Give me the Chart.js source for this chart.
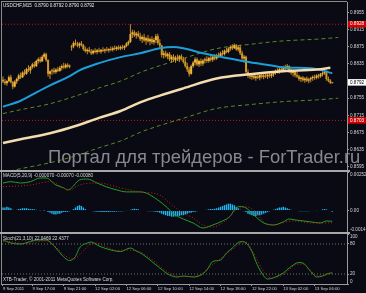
<!DOCTYPE html>
<html>
<head>
<meta charset="utf-8">
<title>USDCHF M15</title>
<script src="https://cdn.jsdelivr.net/npm/chart.js@4.4.1/dist/chart.umd.min.js"></script>
<style>
  html, body { margin: 0; padding: 0; background: #0a0a14; }
  #chart { position: relative; width: 366px; height: 293px; overflow: hidden; background: #0a0a14; }
  #chart canvas { position: absolute; left: 0; }
  .rule { position: absolute; background: #8c8c8c; }
</style>
</head>
<body>
<div id="chart">
  <canvas id="priceChart" width="366" height="170" style="top:0"></canvas>
  <canvas id="macdChart" width="366" height="60" style="top:172px"></canvas>
  <canvas id="stochChart" width="366" height="59" style="top:234px"></canvas>
  <div class="rule" style="left:1px;top:1px;width:346px;height:1px"></div>
  <div class="rule" style="left:1px;top:1px;width:1px;height:284px"></div>
  <div class="rule" style="left:0;top:170px;width:350px;height:2px;background:#a8a8a8"></div>
  <div class="rule" style="left:0;top:232px;width:350px;height:2px;background:#a8a8a8"></div>
</div>
<script>
// USDCHF M15, one entry per bar (9 Sep 2011 -> 13 Sep 2011)
const opens = [
  0.8798,0.8794,0.8790,0.8795,0.8804,0.8792,0.8782,
  0.8794,0.8800,0.8808,0.8804,0.8815,0.8812,0.8823,0.8820,0.8828,0.8834,0.8830,0.8842,0.8846,0.8841,0.8852,0.8858,
  0.8844,0.8812,
  0.8818,0.8820,0.8816,0.8822,0.8819,0.8826,0.8830,0.8827,0.8833,0.8829,
  0.8874,0.8876,0.8884,0.8881,0.8878,0.8883,
  0.8879,0.8870,0.8865,0.8868,0.8864,0.8860,0.8866,
  0.8863,0.8867,0.8864,0.8868,0.8866,0.8869,0.8867,0.8870,
  0.8868,0.8872,0.8870,0.8874,0.8871,0.8875,0.8873,
  0.8877,0.8883,0.8887,0.8905,0.8909,0.8902,0.8906,
  0.8900,0.8893,0.8898,0.8890,0.8895,0.8888,0.8893,0.8886,
  0.8891,0.8900,0.8884,
  0.8878,0.8856,0.8860,
  0.8853,0.8858,0.8846,0.8852,0.8844,0.8850,0.8847,0.8853,0.8846,
  0.8840,0.8830,0.8822,0.8812,0.8830,
  0.8838,0.8846,0.8834,0.8842,0.8836,
  0.8843,0.8846,0.8842,0.8849,0.8845,0.8852,0.8848,0.8856,
  0.8853,0.8860,0.8858,0.8866,0.8863,
  0.8871,0.8875,0.8872,0.8879,0.8869,0.8874,0.8860,0.8848,0.8852,0.8816,
  0.8808,0.8805,0.8808,0.8802,0.8806,0.8803,0.8809,0.8805,0.8808,0.8806,0.8810,0.8807,0.8811,
  0.8815,0.8819,0.8816,0.8823,0.8820,0.8827,0.8824,
  0.8830,0.8818,0.8814,0.8817,0.8809,
  0.8806,0.8800,0.8803,0.8797,0.8801,0.8796,0.8799,
  0.8802,0.8805,0.8803,0.8808,0.8806,0.8811,0.8814,0.8816,0.8800,0.8796,0.8790
];
const highs = [
  0.8806,0.8800,0.8797,0.8808,0.8810,0.8795,0.8797,
  0.8803,0.8812,0.8815,0.8818,0.8822,0.8826,0.8832,0.8830,0.8838,0.8840,0.8845,0.8850,0.8852,0.8856,0.8862,0.8861,
  0.8846,0.8820,
  0.8824,0.8826,0.8825,0.8828,0.8830,0.8834,0.8838,0.8836,0.8837,0.8834,
  0.8880,0.8888,0.8892,0.8887,0.8886,0.8889,
  0.8882,0.8876,0.8872,0.8875,0.8870,0.8869,0.8872,
  0.8870,0.8873,0.8870,0.8874,0.8871,0.8875,0.8872,0.8876,
  0.8876,0.8878,0.8877,0.8879,0.8878,0.8880,0.8879,
  0.8886,0.8890,0.8928,0.8915,0.8914,0.8910,0.8912,
  0.8908,0.8902,0.8906,0.8899,0.8903,0.8897,0.8900,0.8896,
  0.8905,0.8906,0.8893,
  0.8880,0.8866,0.8866,
  0.8862,0.8863,0.8856,0.8858,0.8854,0.8857,0.8856,0.8858,0.8852,
  0.8849,0.8838,0.8828,0.8834,0.8842,
  0.8851,0.8850,0.8845,0.8848,0.8846,
  0.8850,0.8853,0.8852,0.8856,0.8855,0.8858,0.8859,0.8862,
  0.8864,0.8867,0.8869,0.8873,0.8874,
  0.8879,0.8881,0.8883,0.8882,0.8878,0.8880,0.8866,0.8856,0.8854,0.8822,
  0.8813,0.8812,0.8814,0.8810,0.8813,0.8811,0.8815,0.8812,0.8814,0.8813,0.8815,0.8814,0.8818,
  0.8822,0.8825,0.8826,0.8829,0.8831,0.8833,0.8835,
  0.8832,0.8824,0.8822,0.8820,0.8816,
  0.8810,0.8806,0.8807,0.8804,0.8806,0.8803,0.8805,
  0.8808,0.8810,0.8811,0.8812,0.8814,0.8818,0.8822,0.8820,0.8806,0.8799,0.8792
];
const lows = [
  0.8790,0.8786,0.8784,0.8792,0.8790,0.8776,0.8780,
  0.8788,0.8796,0.8800,0.8802,0.8808,0.8810,0.8816,0.8812,0.8824,0.8826,0.8828,0.8836,0.8838,0.8840,0.8847,0.8840,
  0.8805,0.8800,
  0.8810,0.8812,0.8812,0.8816,0.8817,0.8820,0.8824,0.8824,0.8826,0.8825,
  0.8866,0.8872,0.8878,0.8874,0.8872,0.8876,
  0.8866,0.8862,0.8858,0.8862,0.8856,0.8857,0.8860,
  0.8858,0.8862,0.8859,0.8863,0.8860,0.8864,0.8862,0.8865,
  0.8864,0.8867,0.8866,0.8868,0.8867,0.8869,0.8868,
  0.8874,0.8878,0.8884,0.8896,0.8898,0.8894,0.8897,
  0.8889,0.8884,0.8887,0.8880,0.8885,0.8879,0.8882,0.8880,
  0.8884,0.8880,0.8872,
  0.8850,0.8848,0.8850,
  0.8846,0.8842,0.8838,0.8840,0.8838,0.8842,0.8839,0.8843,0.8836,
  0.8826,0.8816,0.8806,0.8810,0.8826,
  0.8832,0.8830,0.8828,0.8830,0.8831,
  0.8836,0.8838,0.8838,0.8841,0.8840,0.8844,0.8845,0.8849,
  0.8850,0.8854,0.8855,0.8860,0.8860,
  0.8866,0.8868,0.8870,0.8866,0.8864,0.8856,0.8842,0.8838,0.8810,0.8802,
  0.8800,0.8798,0.8799,0.8796,0.8800,0.8797,0.8801,0.8799,0.8802,0.8800,0.8803,0.8802,0.8805,
  0.8810,0.8813,0.8812,0.8816,0.8818,0.8820,0.8822,
  0.8814,0.8810,0.8806,0.8804,0.8802,
  0.8796,0.8793,0.8794,0.8791,0.8793,0.8790,0.8792,
  0.8796,0.8798,0.8799,0.8801,0.8803,0.8806,0.8809,0.8796,0.8792,0.8788,0.8790
];
const closes = [
  0.8794,0.8790,0.8795,0.8804,0.8792,0.8782,0.8794,
  0.8800,0.8808,0.8804,0.8815,0.8812,0.8823,0.8820,0.8828,0.8834,0.8830,0.8842,0.8846,0.8841,0.8852,0.8858,0.8844,
  0.8812,0.8818,
  0.8820,0.8816,0.8822,0.8819,0.8826,0.8830,0.8827,0.8833,0.8829,0.8831,
  0.8876,0.8884,0.8881,0.8878,0.8883,0.8879,
  0.8870,0.8865,0.8868,0.8864,0.8860,0.8866,0.8863,
  0.8867,0.8864,0.8868,0.8866,0.8869,0.8867,0.8870,0.8868,
  0.8872,0.8870,0.8874,0.8871,0.8875,0.8873,0.8877,
  0.8883,0.8887,0.8905,0.8909,0.8902,0.8906,0.8900,
  0.8893,0.8898,0.8890,0.8895,0.8888,0.8893,0.8886,0.8891,
  0.8900,0.8884,0.8878,
  0.8856,0.8860,0.8853,
  0.8858,0.8846,0.8852,0.8844,0.8850,0.8847,0.8853,0.8846,0.8840,
  0.8830,0.8822,0.8812,0.8830,0.8838,
  0.8846,0.8834,0.8842,0.8836,0.8843,
  0.8846,0.8842,0.8849,0.8845,0.8852,0.8848,0.8856,0.8853,
  0.8860,0.8858,0.8866,0.8863,0.8871,
  0.8875,0.8872,0.8879,0.8869,0.8874,0.8860,0.8848,0.8852,0.8816,0.8808,
  0.8805,0.8808,0.8802,0.8806,0.8803,0.8809,0.8805,0.8808,0.8806,0.8810,0.8807,0.8811,0.8815,
  0.8819,0.8816,0.8823,0.8820,0.8827,0.8824,0.8830,
  0.8818,0.8814,0.8817,0.8809,0.8806,
  0.8800,0.8803,0.8797,0.8801,0.8796,0.8799,0.8802,
  0.8805,0.8803,0.8808,0.8806,0.8811,0.8814,0.8816,0.8800,0.8796,0.8791,0.8792
];

// moving averages and envelopes (bar index / value)
const blueMaIdx = [0,9,14,24,33,39,49,60,70,80,87,92,102,112,126,136,143,157,163,168];
const blueMa = [0.8735,0.8749,0.8761,0.8785,0.8804,0.8820,0.8837,0.8851,0.8860,0.8872,0.8875,0.8872,0.8860,0.8851,0.8839,0.8832,0.8827,0.8825,0.8820,0.8813];
const slowMaIdx = [0,9,24,37,49,60,71,80,92,109,126,143,160,167];
const slowMa = [0.8650,0.8659,0.8673,0.8690,0.8709,0.8725,0.8747,0.8761,0.8778,0.8801,0.8811,0.8818,0.8822,0.8826];
const envIdx = [0,9,24,37,49,60,71,80,92,109,126,143,160,171];
const envUpper = [0.8719,0.8728,0.8742,0.8760,0.8779,0.8795,0.8817,0.8831,0.8848,0.8871,0.8881,0.8889,0.8893,0.8897];
const envLower = [0.8581,0.8590,0.8604,0.8620,0.8639,0.8655,0.8677,0.8691,0.8708,0.8731,0.8740,0.8747,0.8751,0.8755];

const levels = [0.8928, 0.8703];
const lastPrice = 0.8792;
const priceTicks = [0.8595,0.8635,0.8675,0.8715,0.8755,0.8835,0.8875,0.8915,0.8955];

// MACD(5,20,9)
const macdHist = [
  0.0002,0.0002,0.00025,0.0002,0.00015,
  0.00005,0.00003,0.00005,
  0.0001,0.00012,0.00015,0.00015,0.00015,0.00012,0.0001,0.0001,0.00008,0.00005,
  0.00003,0.00002,0,0.00001,0,
  -0.0001,-0.00015,-0.0002,-0.00025,-0.00025,-0.0002,-0.0002,-0.00015,
  -0.0001,-0.0001,-0.00008,-0.00005,0,
  0.0001,0.0002,0.0003,0.00035,0.0003,0.0002,0.0001,
  0.00003,0,-0.00003,-0.00005,-0.00006,
  -0.00008,-0.00008,-0.00009,-0.0001,-0.0001,-0.0001,-0.00009,-0.00008,-0.00008,-0.00007,-0.00007,-0.00006,-0.00006,-0.00005,-0.00004,-0.00002,0,0.00005,
  0.0001,0.00012,0.0001,0.00008,
  0.00003,0,-0.00002,-0.00003,-0.00004,-0.00005,-0.00005,-0.00006,-0.00008,
  -0.0001,-0.00015,-0.0002,-0.00025,-0.0003,-0.00035,-0.00035,-0.0004,-0.0004,-0.00038,-0.00035,-0.00035,-0.0003,-0.0003,
  -0.00025,-0.0002,-0.00015,-0.00015,-0.0001,-0.00008,-0.00005,-0.00003,-0.00002,0,
  0.00003,0.00005,0.00008,0.0001,0.0001,0.00012,0.00015,0.0002,
  0.00025,0.0003,0.00035,0.0004,0.00045,0.00045,0.0004,0.00035,
  0.00025,0.00015,0.00005,0,-0.00005,-0.0001,
  -0.0002,-0.00025,-0.0003,-0.00035,-0.00035,-0.0003,-0.0003,-0.00025,-0.0002,
  -0.00015,-0.0001,-0.00005,0,0.00005,0.0001,
  0.00015,0.0002,0.0002,0.00025,0.0002,0.00015,0.0001,
  0.00005,0,-0.00003,-0.00003,-0.00005,-0.00005,-0.00005,-0.00005,-0.00004,-0.00004,-0.00003,-0.00003,-0.00003,-0.00002,0,0.00003,
  0.00008,0.0001,0.00008,0.00003,0,-0.00007
];
const macdIdx = [0,4,9,14,19,22,27,31,33,35,39,43,48,53,58,63,70,73,79,84,87,92,97,102,107,112,116,118,121,124,128,133,138,143,146,149,157,162,165,168];
const macdMain = [0.00180,0.00189,0.00180,0.00189,0.00213,0.00213,0.00167,0.00148,0.00135,0.00148,0.00200,0.00206,0.00180,0.00154,0.00135,0.00122,0.00122,0.00115,0.00069,0.00017,-0.00022,-0.00055,-0.00081,-0.00114,-0.00094,-0.00068,-0.00035,0.00004,0.00027,0.00017,-0.00029,-0.00081,-0.00094,-0.00074,-0.00055,-0.00061,-0.00074,-0.00081,-0.00068,-0.00070];
const macdSigIdx = [0,14,24,34,39,49,60,70,80,85,92,97,102,107,114,119,124,128,133,138,144,149,157,163,168];
const macdSignal = [0.00156,0.00167,0.00189,0.00135,0.00167,0.00180,0.00148,0.00122,0.00102,0.00050,-0.00016,-0.00048,-0.00094,-0.00107,-0.00061,0.00004,0.00024,0.00004,-0.00074,-0.00094,-0.00074,-0.00068,-0.00081,-0.00081,-0.00080];
const macdTicks = [-0.0014, 0, 0.00252];
const macdTickLabels = ['-0.0014', '0.00', '0.00252'];

// Stochastic(21,3,10)
const stochIdx = [0,4,9,14,18,22,27,30,33,34,37,39,43,45,49,55,60,65,68,71,75,80,85,89,92,97,101,104,107,111,114,117,120,122,124,127,129,132,135,139,143,146,151,153,157,160,163,167,168];
const stochMain = [88,82,80,85,88,88,72,58,48,47,55,72,82,84,76,68,65,72,66,60,48,32,18,14,16,14,18,28,45,48,62,72,83,85,82,65,45,22,10,14,22,32,43,42,25,14,16,22,22.05];
const stochSigIdx = [0,5,10,15,20,24,28,32,36,40,44,48,53,58,63,68,72,77,82,87,92,97,101,105,110,114,118,121,124,127,130,133,137,141,145,149,153,157,160,164,168];
const stochSignal = [86,84,81,82,86,84,70,56,50,62,78,82,74,67,68,66,60,46,30,18,15,15,20,32,48,60,72,82,84,68,46,25,12,15,25,38,40,27,16,17,22.44];
const stochLevels = [20, 80];
const stochTicks = [0, 20, 80, 100];
const stochTickLabels = ['0', '20', '80', '100'];

// time axis
const timeTickIdx = [0,15,31,47,63,79,95,111,127,143,159];
const timeTickLabels = ['9 Sep 2011','9 Sep 17:00','9 Sep 21:00','12 Sep 02:00','12 Sep 06:00','12 Sep 10:00','12 Sep 14:00','12 Sep 18:00','12 Sep 22:00','13 Sep 02:00','13 Sep 06:00'];

const FONT = "'Liberation Sans', Arial, sans-serif";
Chart.defaults.font.family = FONT;
const axisGray = '#9a9a9a';
const labelGray = '#d4d4d4';
const small = { size: 4.6 };
const X_MIN = -0.5, X_MAX = 175.5;

const pts = (xs, ys) => xs.map((x, k) => ({ x: x, y: ys[k] }));
const hline = (v, color, dash) => ({
  type: 'line', data: [{ x: X_MIN, y: v }, { x: X_MAX, y: v }],
  borderColor: color, borderWidth: 1, borderDash: dash, pointRadius: 0, order: 9
});
const fixY = s => { s.width = 19; s.paddingTop = 0; s.paddingBottom = 0; };
// edge labels sit inside the pane, like the terminal does
const edgeLabel = (label, i, n) => i === 0 ? [label, ''] : (i === n - 1 ? ['', label] : label);
// hidden shared bar-index axis (offset off so bars sit on their index)
const hiddenX = { type: 'linear', min: X_MIN, max: X_MAX, offset: false, display: false };

function textLayer(items) {
  return {
    id: 'textLayer',
    afterDraw(chart) {
      const ctx = chart.ctx;
      ctx.save();
      items.forEach(t => {
        ctx.font = t.font;
        ctx.fillStyle = t.color;
        ctx.textAlign = 'left';
        ctx.textBaseline = t.baseline || 'middle';
        ctx.fillText(t.text, t.x, t.y);
      });
      ctx.restore();
    }
  };
}

const barIdx = closes.map((c, i) => i);
const isLevel = c => c.tick && levels.includes(c.tick.value);
const isLast = c => c.tick && c.tick.value === lastPrice;

new Chart(document.getElementById('priceChart'), {
  type: 'bar',
  data: {
    datasets: [
      ...levels.map(v => hline(v, '#c81818', [1, 2])),
      { type: 'line', data: pts(envIdx, envUpper), borderColor: '#5a8a24', borderWidth: 1, borderDash: [4, 3], pointRadius: 0, cubicInterpolationMode: 'monotone', order: 8 },
      { type: 'line', data: pts(envIdx, envLower), borderColor: '#5a8a24', borderWidth: 1, borderDash: [4, 3], pointRadius: 0, cubicInterpolationMode: 'monotone', order: 8 },
      {
        type: 'bar', data: barIdx.map(i => ({ x: i, y: [lows[i], highs[i]] })),
        backgroundColor: '#c98f22', grouped: false, barPercentage: 1, categoryPercentage: 1,
        barThickness: 1, maxBarThickness: 1, inflateAmount: 0, order: 7
      },
      {
        type: 'bar', data: barIdx.map(i => ({ x: i, y: [opens[i], closes[i]] })),
        backgroundColor: c => closes[c.dataIndex] >= opens[c.dataIndex] ? '#f0b640' : '#d49826',
        grouped: false, barPercentage: 1, categoryPercentage: 1,
        barThickness: 2, maxBarThickness: 2, inflateAmount: 0, order: 6
      },
      { type: 'line', data: pts(blueMaIdx, blueMa), borderColor: '#1c9ed8', borderWidth: 2, pointRadius: 0, cubicInterpolationMode: 'monotone', order: 2 },
      { type: 'line', data: pts(slowMaIdx, slowMa), borderColor: '#f3dcae', borderWidth: 2.5, pointRadius: 0, cubicInterpolationMode: 'monotone', order: 1 }
    ]
  },
  options: {
    responsive: false, animation: false,
    layout: { padding: { left: 2, top: 2, right: 0, bottom: 0 } },
    plugins: { legend: { display: false }, tooltip: { enabled: false } },
    scales: {
      x: hiddenX,
      y: {
        type: 'linear', position: 'right', min: 0.8587, max: 0.8980,
        afterFit: fixY,
        afterBuildTicks: s => { s.ticks = priceTicks.concat(levels, [lastPrice]).sort((a, b) => a - b).map(v => ({ value: v })); },
        ticks: {
          autoSkip: false, padding: 1, font: small,
          color: c => isLast(c) ? '#000000' : (isLevel(c) ? '#ffffff' : labelGray),
          showLabelBackdrop: c => isLast(c) || isLevel(c),
          backdropColor: c => isLast(c) ? '#ffffff' : '#d40000',
          backdropPadding: { top: 0.5, bottom: 0.5, left: 2, right: 3 },
          callback: v => v.toFixed(4)
        },
        grid: { drawOnChartArea: false, tickLength: 2, color: axisGray },
        border: { color: axisGray }
      }
    }
  },
  plugins: [textLayer([
    { text: 'USDCHF,M15  0.8790 0.8792 0.8790 0.8792', x: 3, y: 5.5, font: '4.6px ' + FONT, color: '#e8e8e8' },
    { text: 'Портал для трейдеров - ForTrader.ru', x: 48, y: 163, baseline: 'alphabetic', font: '18.4px ' + FONT, color: '#88888e' }
  ])]
});

new Chart(document.getElementById('macdChart'), {
  type: 'bar',
  data: {
    datasets: [
      {
        type: 'bar', data: macdHist.map((v, i) => ({ x: i, y: v })),
        backgroundColor: '#20b6f2', grouped: false, barPercentage: 1, categoryPercentage: 1,
        barThickness: 1.4, maxBarThickness: 1.4, inflateAmount: 0, order: 3
      },
      { type: 'line', data: pts(macdIdx, macdMain), borderColor: '#22a022', borderWidth: 1, pointRadius: 0, cubicInterpolationMode: 'monotone', order: 2 },
      { type: 'line', data: pts(macdSigIdx, macdSignal), borderColor: '#d41a1a', borderWidth: 1, borderDash: [1, 2], pointRadius: 0, cubicInterpolationMode: 'monotone', order: 1 }
    ]
  },
  options: {
    responsive: false, animation: false,
    layout: { padding: { left: 2, top: 0, right: 0, bottom: 0 } },
    plugins: { legend: { display: false }, tooltip: { enabled: false } },
    scales: {
      x: hiddenX,
      y: {
        type: 'linear', position: 'right', min: -0.0014, max: 0.00252,
        afterFit: fixY,
        afterBuildTicks: s => { s.ticks = macdTicks.map(v => ({ value: v })); },
        ticks: { autoSkip: false, padding: 1, font: small, color: labelGray, callback: (v, i) => edgeLabel(macdTickLabels[i], i, macdTicks.length) },
        grid: { drawOnChartArea: false, tickLength: 2, color: axisGray },
        border: { color: axisGray }
      }
    }
  },
  plugins: [textLayer([
    { text: 'MACD(5,20,9) -0.000070 -0.00070 -0.00080', x: 3, y: 3.4, font: '4.6px ' + FONT, color: '#d8d8d8' }
  ])]
});

new Chart(document.getElementById('stochChart'), {
  type: 'line',
  data: {
    datasets: [
      ...stochLevels.map(v => hline(v, '#707070', [1, 2])),
      { data: pts(stochIdx, stochMain), borderColor: '#22a022', borderWidth: 1, pointRadius: 0, cubicInterpolationMode: 'monotone', order: 2 },
      { data: pts(stochSigIdx, stochSignal), borderColor: '#d41a1a', borderWidth: 1, borderDash: [1, 2], pointRadius: 0, cubicInterpolationMode: 'monotone', order: 1 }
    ]
  },
  options: {
    responsive: false, animation: false,
    layout: { padding: { left: 2, top: 0, right: 0, bottom: 0 } },
    plugins: { legend: { display: false }, tooltip: { enabled: false } },
    scales: {
      x: {
        type: 'linear', position: 'bottom', min: X_MIN, max: X_MAX, offset: false,
        afterFit: s => { s.height = 9; s.paddingLeft = 0; s.paddingRight = 0; },
        afterBuildTicks: s => { s.ticks = timeTickIdx.map(v => ({ value: v })); },
        ticks: { autoSkip: false, minRotation: 0, maxRotation: 0, align: 'start', padding: 0.5, font: { size: 4.2 }, color: labelGray, callback: (v, i) => timeTickLabels[i] },
        grid: { drawOnChartArea: false, tickLength: 2, color: axisGray },
        border: { color: axisGray }
      },
      y: {
        type: 'linear', position: 'right', min: 0, max: 100,
        afterFit: fixY,
        afterBuildTicks: s => { s.ticks = stochTicks.map(v => ({ value: v })); },
        ticks: { autoSkip: false, padding: 1, font: small, color: labelGray, callback: (v, i) => edgeLabel(stochTickLabels[i], i, stochTicks.length) },
        grid: { drawOnChartArea: false, tickLength: 2, color: axisGray },
        border: { color: axisGray }
      }
    }
  },
  plugins: [textLayer([
    { text: 'Stoch(21,3,10) 22.0469 22.4377', x: 3, y: 4.3, font: '4.6px ' + FONT, color: '#d8d8d8' },
    { text: 'XTB-Trader, © 2001-2011 MetaQuotes Software Corp.', x: 3, y: 46, font: '4.6px ' + FONT, color: '#d8d8d8' }
  ])]
});
</script>
</body>
</html>
